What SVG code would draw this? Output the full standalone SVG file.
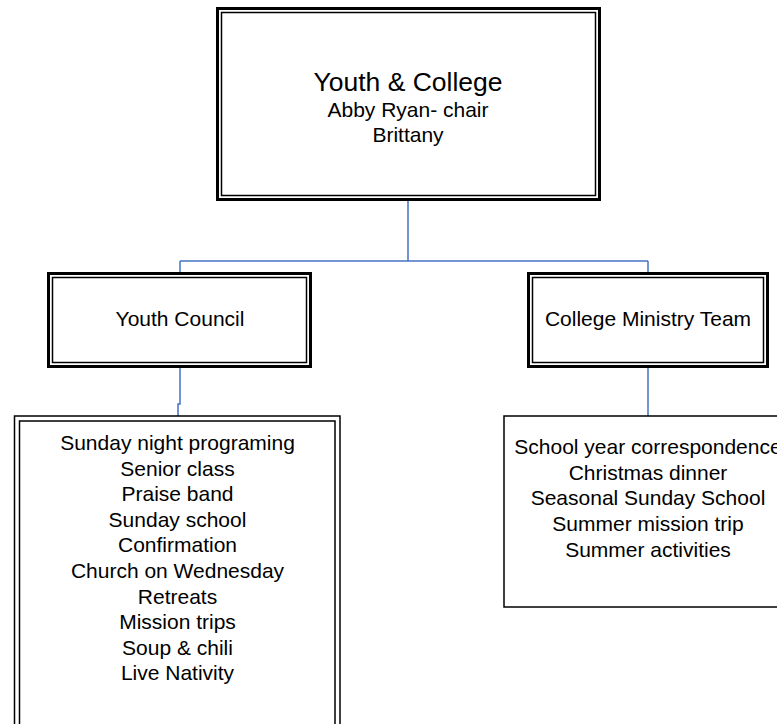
<svg xmlns="http://www.w3.org/2000/svg" width="777" height="724" viewBox="0 0 777 724">
<style>
  .bg { fill: #ffffff; }
  .thick { fill: #ffffff; stroke: #000000; stroke-width: 3; }
  .thin { fill: none; stroke: #000000; stroke-width: 1.5; }
  .box { fill: #ffffff; stroke: #000000; stroke-width: 1.5; }
  .conn { fill: none; stroke: #4472C4; stroke-width: 1.5; }
  text { font-family: "Liberation Sans", Arial, sans-serif; fill: #000000; text-anchor: middle; }
  .big { font-size: 26.5px; }
  .t { font-size: 21px; }
</style>
<rect class="bg" x="0" y="0" width="777" height="724"/>
<g id="connectors">
  <path class="conn" d="M408,201 V261"/>
  <path class="conn" d="M180,261 H648"/>
  <path class="conn" d="M180,261 V272"/>
  <path class="conn" d="M648,261 V272"/>
  <path class="conn" d="M180,368 V404 H178 V416"/>
  <path class="conn" d="M648,368 V416"/>
</g>
<g id="youth-college">
  <rect class="thick" x="217.5" y="8.5" width="382" height="191"/>
  <rect class="thin" x="221.5" y="12.5" width="374" height="183"/>
  <text class="big" x="408" y="91">Youth &amp; College</text>
  <text class="t" x="408" y="117">Abby Ryan- chair</text>
  <text class="t" x="408" y="141.5">Brittany</text>
</g>
<g id="youth-council">
  <rect class="thick" x="48.5" y="273.5" width="262" height="93"/>
  <rect class="thin" x="52.5" y="277.5" width="254" height="85"/>
  <text class="t" x="180" y="326">Youth Council</text>
</g>
<g id="college-ministry-team">
  <rect class="thick" x="528.5" y="273.5" width="239" height="93"/>
  <rect class="thin" x="532.5" y="277.5" width="231" height="85"/>
  <text class="t" x="648" y="326">College Ministry Team</text>
</g>
<g id="youth-list">
  <rect class="box" x="14.5" y="416" width="325.5" height="330"/>
  <rect class="thin" x="19.5" y="421" width="315.5" height="330"/>
  <text class="t" x="177.5" y="450">Sunday night programing</text>
  <text class="t" x="177.5" y="475.6">Senior class</text>
  <text class="t" x="177.5" y="501.2">Praise band</text>
  <text class="t" x="177.5" y="526.8">Sunday school</text>
  <text class="t" x="177.5" y="552.4">Confirmation</text>
  <text class="t" x="177.5" y="578">Church on Wednesday</text>
  <text class="t" x="177.5" y="603.6">Retreats</text>
  <text class="t" x="177.5" y="629.2">Mission trips</text>
  <text class="t" x="177.5" y="654.8">Soup &amp; chili</text>
  <text class="t" x="177.5" y="680.4">Live Nativity</text>
</g>
<g id="college-list">
  <rect class="box" x="504" y="416" width="300" height="191"/>
  <text class="t" x="648" y="454">School year correspondence</text>
  <text class="t" x="648" y="479.7">Christmas dinner</text>
  <text class="t" x="648" y="505.4">Seasonal Sunday School</text>
  <text class="t" x="648" y="531.1">Summer mission trip</text>
  <text class="t" x="648" y="556.8">Summer activities</text>
</g>
</svg>
